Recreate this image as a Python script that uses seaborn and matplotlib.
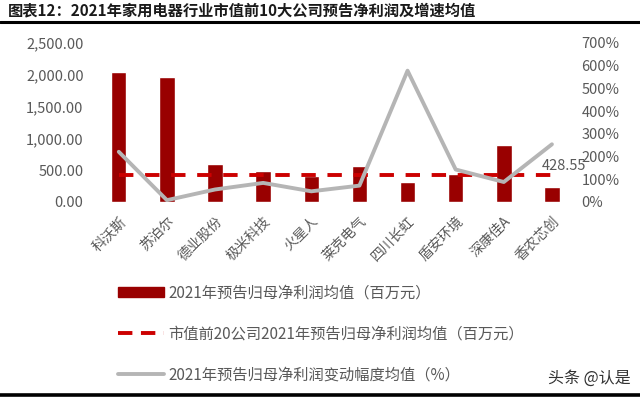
# -*- coding:utf-8 -*-

import pandas as pd
import matplotlib.pyplot as plt
from matplotlib.lines import Line2D
from matplotlib.patches import Patch
import seaborn as sns

# Data
companies = ["科沃斯", "苏泊尔", "德业股份", "极米科技", "火星人",
             "莱克电气", "四川长虹", "盾安环境", "深康佳A", "香农芯创"]
profit = [2042, 1963, 595, 484, 405, 563, 311, 440, 895, 237]
growth = [221, 8, 55, 84, 47, 72, 578, 143, 88, 254]
top20_avg = 428.55

title = "图表12：2021年家用电器行业市值前10大公司预告净利润及增速均值"
legend_labels = ["2021年预告归母净利润均值（百万元）",
                 "市值前20公司2021年预告归母净利润均值（百万元）",
                 "2021年预告归母净利润变动幅度均值（%）"]

df = pd.DataFrame({"company": companies, "profit": profit, "growth": growth})

sns.set_style("white")
plt.rcParams['font.family'] = ['Noto Sans CJK SC', 'DejaVu Sans']

bar_color = "#990000"
dash_color = "#CC0000"
line_color = "#B5B5B5"
text_color = "#595959"

fig = plt.figure(figsize=(6.4, 3.98), dpi=100)
ax = fig.add_axes([0.148, 0.4925, 0.752, 0.3995])

# Bars
sns.barplot(data=df, x="company", y="profit", color=bar_color,
            width=0.32, saturation=1, ax=ax)

# Top-20 average (dashed)
ax.hlines(top20_avg, 0, len(companies) - 1, colors=dash_color,
          linewidth=2.8, linestyles=(0, (3.7, 3.0)), zorder=3)
ax.text(len(companies) - 1.22, top20_avg + 30, f"{top20_avg:.2f}",
        color=text_color, fontsize=10.5, ha="left", va="bottom", zorder=5)

ax.set_ylim(0, 2500)
ax.set_xlim(-0.5, len(companies) - 0.5)
ax.set_yticks(range(0, 2501, 500))
ax.set_yticklabels([f"{v:,.2f}" for v in range(0, 2501, 500)])
ax.set_xlabel("")
ax.set_ylabel("")
ax.tick_params(axis="y", colors=text_color, labelsize=10.5, length=0, pad=8)
ax.tick_params(axis="x", colors=text_color, labelsize=10, length=0, pad=9)
for lab in ax.get_xticklabels():
    lab.set_rotation(45)
    lab.set_ha("right")
    lab.set_rotation_mode("anchor")
for s in ax.spines.values():
    s.set_visible(False)

# Growth line on right axis
ax2 = ax.twinx()
sns.lineplot(x=list(range(len(companies))), y=growth, color=line_color,
             linewidth=2.8, ax=ax2, zorder=4)
ax2.set_ylim(0, 700)
ax2.set_yticks(range(0, 701, 100))
ax2.set_yticklabels([f"{v}%" for v in range(0, 701, 100)])
ax2.tick_params(axis="y", colors=text_color, labelsize=10.5, length=0, pad=4)
for s in ax2.spines.values():
    s.set_visible(False)

# Title and rules
fig.text(0.012, 0.974, title, fontsize=11, fontweight="bold",
         color="#1a1a1a", ha="left", va="center")
fig.add_artist(Line2D([0, 1], [0.944, 0.944], color="black", linewidth=2.2,
                      transform=fig.transFigure))
fig.add_artist(Line2D([0, 1], [0.008, 0.008], color="black", linewidth=2.6,
                      transform=fig.transFigure))

# Legend
handles = [Patch(facecolor=bar_color, edgecolor=bar_color),
           Line2D([], [], color=dash_color, linewidth=2.8,
                  linestyle=(0, (3.7, 2.2))),
           Line2D([], [], color=line_color, linewidth=2.8)]
leg = fig.legend(handles, legend_labels, loc="upper left",
                 bbox_to_anchor=(0.175, 0.3), frameon=False,
                 fontsize=11, labelspacing=1.55, handlelength=3.0,
                 handleheight=0.6, handletextpad=0.3,
                 borderaxespad=0)
for t in leg.get_texts():
    t.set_color(text_color)

fig.text(0.985, 0.05, "头条 @认是", fontsize=11.5, color="#333333",
         ha="right", va="center")

plt.savefig("out.png", dpi=100)
